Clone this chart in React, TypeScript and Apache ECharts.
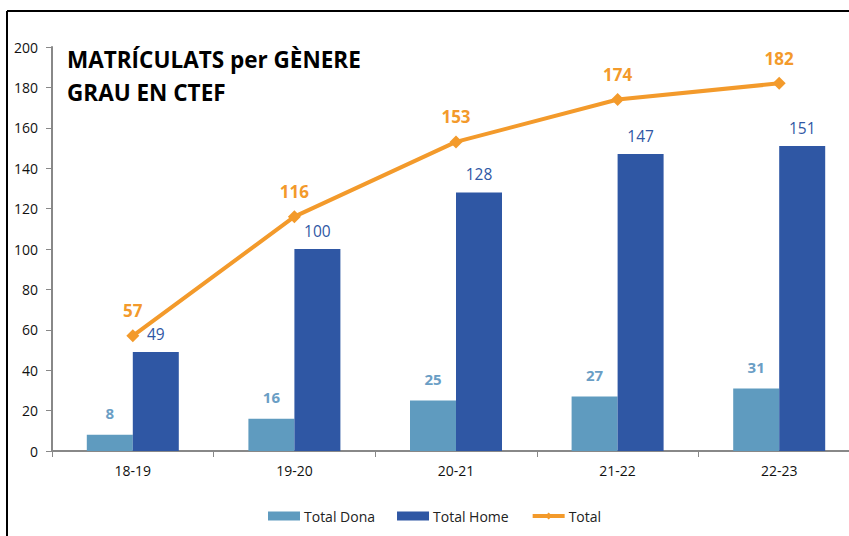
import React, { useEffect, useRef } from "react";
import * as echarts from "echarts";

const categories = ["18-19", "19-20", "20-21", "21-22", "22-23"];
const dona = [8, 16, 25, 27, 31];
const home = [49, 100, 128, 147, 151];
const total = [57, 116, 153, 174, 182];
const yTicks = [0, 20, 40, 60, 80, 100, 120, 140, 160, 180, 200];

const FONT = "'Open Sans', 'Liberation Sans', sans-serif";

export default function App() {
  const ref = useRef<HTMLDivElement>(null);
  useEffect(() => {
    const chart = echarts.init(ref.current!, null, { renderer: "svg" });
    chart.setOption({
      animation: false,
      backgroundColor: "#ffffff",
      textStyle: { fontFamily: FONT },
      graphic: [
        { type: "line", shape: { x1: 7, y1: 11, x2: 860, y2: 11 }, style: { stroke: "#000", lineWidth: 2 } },
        { type: "line", shape: { x1: 7, y1: 11, x2: 7, y2: 560 }, style: { stroke: "#000", lineWidth: 2 } },
        {
          type: "text",
          left: 67,
          top: 43,
          style: {
            text: "MATRÍCULATS per GÈNERE\nGRAU EN CTEF",
            font: `bold 22.5px ${FONT}`,
            fill: "#000",
            lineHeight: 33,
          },
        },
      ],
      legend: {
        bottom: 8,
        left: 263,
        itemWidth: 32,
        itemHeight: 9,
        itemGap: 22,
        textStyle: { fontSize: 14, color: "#222", fontFamily: FONT, padding: [0, 0, 0, -1] },
        data: [
          { name: "Total Dona", icon: "rect" },
          { name: "Total Home", icon: "rect" },
          { name: "Total", lineStyle: { width: 4 } },
        ],
      },
      grid: { left: 52, top: 47, width: 808, height: 404, containLabel: false, outerBoundsMode: "none" },
      xAxis: {
        type: "category",
        data: categories,
        axisLine: { lineStyle: { color: "#888", width: 2 } },
        axisTick: { show: true, length: 6, lineStyle: { color: "#888" } },
        axisLabel: { fontSize: 14, color: "#111", margin: 12 },
      },
      yAxis: {
        type: "value",
        min: 0,
        max: 200,
        interval: 20,
        axisLine: { show: true, lineStyle: { color: "#888", width: 2 } },
        axisTick: { show: true, length: 6, lineStyle: { color: "#888" } },
        splitLine: { show: false },
        axisLabel: {
          fontSize: 14,
          color: "#111",
          margin: 14,
          formatter: (v: number) => (yTicks.includes(v) ? String(v) : ""),
        },
      },
      series: [
        {
          name: "Total Dona",
          type: "bar",
          data: dona,
          barWidth: 46,
          barGap: "0%",
          itemStyle: { color: "#5F9BBF" },
          label: {
            show: true,
            position: "top",
            distance: 14,
            fontSize: 15,
            fontWeight: "bold",
            color: "#6A9EC5",
          },
        },
        {
          name: "Total Home",
          type: "bar",
          data: home,
          barWidth: 46,
          barGap: "0%",
          itemStyle: { color: "#2F57A4" },
          label: {
            show: true,
            position: "top",
            distance: 10,
            fontSize: 15.5,
            color: "#2F57A4",
          },
        },
        {
          name: "Total",
          type: "line",
          data: total,
          symbol: "diamond",
          symbolSize: 13,
          lineStyle: { color: "#F39A2B", width: 4 },
          itemStyle: { color: "#F39A2B" },
          label: {
            show: true,
            position: "top",
            distance: 10,
            fontSize: 17,
            fontWeight: "bold",
            color: "#F39A2B",
          },
        },
      ],
    });
    return () => chart.dispose();
  }, []);
  return <div ref={ref} style={{ width: 849, height: 536, position: "absolute", left: 0, top: 0 }} />;
}
